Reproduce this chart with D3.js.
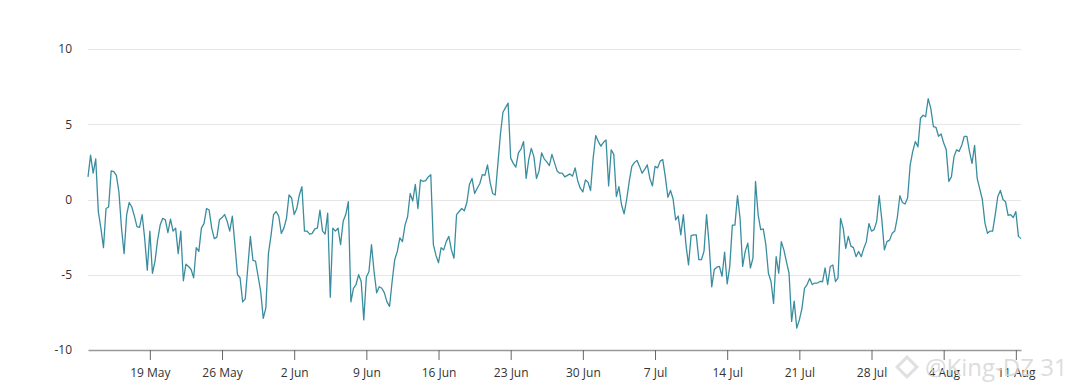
<!DOCTYPE html>
<html>
<head>
<meta charset="utf-8">
<script src="https://cdn.jsdelivr.net/npm/d3@7"></script>
<style>
  body { margin: 0; background: #fff; }
  #chart-area text { font-family: "Open Sans", sans-serif; }
</style>
</head>
<body>
<div id="chart-area"></div>
<script>
// series: one reading every 6 hours, starting 13 May
const START_DATE = "2024-05-13T00:00"
const STEP_HOURS = 6
const values = [
  1.5, 2.95, 1.75, 2.7, -0.8, -1.9, -3.2, -0.6, -0.5, 1.9,
  1.85, 1.6, 0.5, -1.9, -3.6, -1.0, -0.2, -0.5, -1.1, -1.8,
  -1.85, -1.0, -2.6, -4.7, -2.1, -4.9, -4.1, -2.7, -1.7, -1.25,
  -1.35, -2.2, -1.3, -2.1, -1.9, -3.6, -2.1, -5.4, -4.3, -4.45,
  -4.65, -5.2, -3.2, -3.45, -1.9, -1.6, -0.6, -0.7, -1.9, -2.6,
  -2.5, -1.35, -1.2, -1.0, -1.45, -2.1, -1.1, -3.0, -5.0, -5.2,
  -6.8,
  -6.6, -4.5, -2.45, -4.05, -4.1, -5.1, -6.1, -7.9, -7.2, -3.6,
  -2.4, -1.0, -0.8, -1.1, -2.25, -1.9, -1.25, 0.3, 0.1, -1.0,
  -0.6, 0.3, 0.85, -2.1, -2.1, -2.3, -2.25, -1.95, -1.9, -0.7,
  -2.1, -2.3, -0.9, -6.5, -1.9, -2.1, -1.9, -3.0, -1.45, -1.0,
  -0.15, -6.8, -5.9, -5.65, -5.0, -5.45, -8.0, -5.15, -4.8, -3.0,
  -4.8, -6.2, -5.8, -5.9, -6.2, -6.8, -7.1, -5.45, -4.0, -3.45,
  -2.55, -2.8, -1.7, -1.15, 0.4, -0.1, 1.0, -0.6, 1.3, 1.2,
  1.25, 1.5, 1.65, -3.0, -3.7, -4.2, -3.2, -3.35, -2.8, -2.45,
  -3.35, -3.9, -1.0, -0.8, -0.6, -0.75, -0.2, 1.0, 1.4, 0.4,
  0.75, 1.05, 1.65, 1.6, 2.3, 1.15, 0.4, 0.3, 2.3, 4.3,
  5.8, 6.1, 6.4, 2.75, 2.4, 2.15, 3.1, 3.35, 3.85, 1.4,
  2.65, 3.4, 2.85, 1.4, 1.9, 3.1, 2.7, 2.5, 2.25, 3.0,
  2.45, 1.9, 1.75, 1.75, 1.5, 1.6, 1.7, 1.55, 2.1, 1.25,
  0.75, 0.5, 1.3, 1.15, 0.6, 2.75, 4.25, 3.85, 3.55, 3.8,
  3.95, 0.9, 3.3, 3.0, 0.2, 0.85, -0.35, -0.95, 0.0, 1.2,
  2.2, 2.45, 2.6, 2.2, 1.75, 2.0, 2.3, 1.4, 0.9, 2.2,
  2.1, 2.55, 2.65, 1.5, 0.15, 0.6, 0.05, -1.35, -1.1, -2.35,
  -1.0, -3.0, -4.35, -2.4, -2.35, -2.35, -4.0, -4.0, -3.45, -1.0,
  -3.0, -5.8, -4.65, -4.5, -4.45, -5.1, -3.5, -5.6, -4.45, -1.7,
  -1.7, 0.25, -1.25, -4.45, -3.45, -2.9, -4.55, -3.9, 1.2, -1.0,
  -2.0, -1.95, -3.0, -4.9, -5.45, -6.9, -3.8, -4.9, -2.8, -3.35,
  -4.15, -4.9, -8.1, -6.75, -8.55, -8.0, -7.25, -5.9, -5.65, -5.25,
  -5.65, -5.55, -5.55, -5.45, -5.45, -4.55, -5.65, -4.45, -4.35, -5.45,
  -5.2, -1.25, -1.9, -3.25, -2.45, -3.1, -3.2, -3.8, -3.45, -3.8,
  -3.25, -2.8, -1.6, -2.1, -2.0, -1.45, 0.25, -1.35, -3.35, -2.8,
  -2.7, -2.25, -2.1, -1.2, 0.25, -0.2, -0.3, 0.1, 2.3, 3.2,
  3.85, 3.5, 5.4, 5.6, 5.5, 6.7, 6.05, 4.85, 4.8, 4.2,
  4.35, 3.75, 3.3, 1.2, 1.5, 2.85, 3.3, 3.2, 3.6, 4.2,
  4.2, 3.2, 2.4, 3.6, 1.4, 0.7, 0.0, -1.55, -2.25, -2.1,
  -2.1, -1.0, 0.2, 0.6, 0.0, -0.15, -1.05, -1.0, -1.2, -0.8,
  -2.45, -2.6
]

const yTicks = [-10, -5, 0, 5, 10]
const xTickDates = ["2024-05-19", "2024-05-26", "2024-06-02", "2024-06-09",
  "2024-06-16", "2024-06-23", "2024-06-30", "2024-07-07", "2024-07-14",
  "2024-07-21", "2024-07-28", "2024-08-04", "2024-08-11"]

const MARGIN = { LEFT: 88, RIGHT: 59, TOP: 49, BOTTOM: 40 }
const WIDTH = 1080 - MARGIN.LEFT - MARGIN.RIGHT
const HEIGHT = 390 - MARGIN.TOP - MARGIN.BOTTOM

const svg = d3.select("#chart-area").append("svg")
  .attr("width", 1080)
  .attr("height", 390)

const g = svg.append("g")
  .attr("transform", `translate(${MARGIN.LEFT}, ${MARGIN.TOP})`)

const parseTime = d3.utcParse("%Y-%m-%dT%H:%M")
const parseDay = d3.utcParse("%Y-%m-%d")
const formatTick = d3.utcFormat("%-d %b")

const start = parseTime(START_DATE)
const data = values.map((v, i) => ({ date: d3.utcHour.offset(start, i * STEP_HOURS), value: v }))

// scales
const x = d3.scaleUtc()
  .domain(d3.extent(data, d => d.date))
  .range([0, WIDTH])
const y = d3.scaleLinear()
  .domain([-10, 10])
  .range([HEIGHT, 0])

// grid lines
g.append("g")
  .attr("class", "grid")
  .selectAll("line")
  .data(yTicks.filter(d => d !== -10))
  .enter().append("line")
    .attr("x1", 0)
    .attr("x2", WIDTH)
    .attr("y1", d => Math.round(y(d)) + 0.5)
    .attr("y2", d => Math.round(y(d)) + 0.5)
    .attr("stroke", "#e6e6e6")
    .attr("stroke-width", 1)

// y axis (labels only)
const yAxis = g.append("g")
  .attr("class", "y axis")
  .call(d3.axisLeft(y).tickValues(yTicks).tickSize(0).tickPadding(16).tickFormat(d => String(d)))
yAxis.select(".domain").remove()
yAxis.selectAll("text")
  .attr("fill", "#333")
  .attr("font-size", "12px")

// x axis
const xAxis = g.append("g")
  .attr("class", "x axis")
  .attr("transform", `translate(0, ${HEIGHT})`)
  .call(d3.axisBottom(x)
    .tickValues(xTickDates.map(parseDay))
    .tickSize(10)
    .tickSizeOuter(0)
    .tickPadding(8)
    .tickFormat(formatTick))
xAxis.select(".domain").attr("stroke", "#999").attr("stroke-width", 1.5)
xAxis.selectAll(".tick line").attr("stroke", "#666")
xAxis.selectAll("text")
  .attr("fill", "#333")
  .attr("font-size", "12px")

// the line
const line = d3.line()
  .x(d => x(d.date))
  .y(d => y(d.value))

g.append("path")
  .attr("class", "line")
  .attr("fill", "none")
  .attr("stroke", "#3a8d9f")
  .attr("stroke-width", 1.3)
  .attr("stroke-linejoin", "round")
  .attr("d", line(data))

// watermark
const wm = svg.append("g").attr("transform", "translate(907, 367)")
wm.append("rect")
  .attr("x", -7).attr("y", -7).attr("width", 14).attr("height", 14)
  .attr("transform", "rotate(45)")
  .attr("fill", "none")
  .attr("stroke", "#e0e0e0")
  .attr("stroke-width", 3)
wm.append("text")
  .attr("x", 18)
  .attr("y", 9)
  .attr("font-size", "24px")
  .attr("fill", "#d6d6d6")
  .attr("fill-opacity", 0.85)
  .text("@King-DZ 31")
</script>
</body>
</html>
